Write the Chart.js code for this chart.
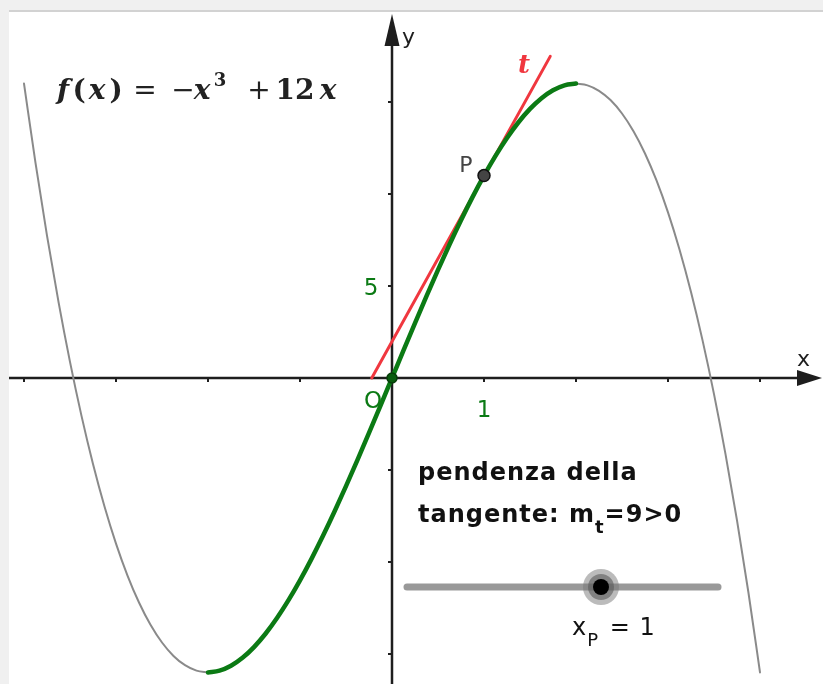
<!DOCTYPE html>
<html>
<head>
<meta charset="utf-8">
<script src="https://cdn.jsdelivr.net/npm/chart.js@4.4.0/dist/chart.umd.min.js"></script>
<style>
  html, body { margin: 0; padding: 0; background: #f0f0f0; overflow: hidden; }
  #wrap { position: absolute; left: 0; top: 0; width: 823px; height: 684px; }
</style>
</head>
<body>
<div id="wrap"><canvas id="graph"></canvas></div>
<script>
// values: f(x) = -x^3 + 12x
const leftX = [-4, -3.875, -3.75, -3.625, -3.5, -3.375, -3.25, -3.125, -3, -2.875, -2.75, -2.625, -2.5, -2.375, -2.25, -2.125, -2];
const leftY = [16, 11.686, 7.734, 4.135, 0.875, -2.057, -4.672, -6.982, -9, -10.736, -12.203, -13.412, -14.375, -15.104, -15.609, -15.904, -16];

const arcX = [-2, -1.875, -1.75, -1.625, -1.5, -1.375, -1.25, -1.125, -1, -0.875, -0.75, -0.625, -0.5, -0.375, -0.25, -0.125,
  0, 0.125, 0.25, 0.375, 0.5, 0.625, 0.75, 0.875, 1, 1.125, 1.25, 1.375, 1.5, 1.625, 1.75, 1.875, 2];
const arcY = [-16, -15.908, -15.641, -15.209, -14.625, -13.9, -13.047, -12.076, -11, -9.83, -8.578, -7.256, -5.875, -4.447, -2.984, -1.498,
  0, 1.498, 2.984, 4.447, 5.875, 7.256, 8.578, 9.83, 11, 12.076, 13.047, 13.9, 14.625, 15.209, 15.641, 15.908, 16];

const rightX = [2, 2.125, 2.25, 2.375, 2.5, 2.625, 2.75, 2.875, 3, 3.125, 3.25, 3.375, 3.5, 3.625, 3.75, 3.875, 4];
const rightY = [16, 15.904, 15.609, 15.104, 14.375, 13.412, 12.203, 10.736, 9, 6.982, 4.672, 2.057, -0.875, -4.135, -7.734, -11.686, -16];

const tangentX = [-0.22, 1.72];
const tangentY = [0, 17.48];

const pointP = [1, 11];
const pointO = [0, 0];

const xTicks = [-4, -3, -2, -1, 1, 2, 3, 4];
const yTicks = [-15, -10, -5, 5, 10, 15];

const GREEN = "#0b7a14";
const RED = "#f0373f";

function pts(xs, ys) {
  return xs.map((x, i) => ({ x: x, y: ys[i] }));
}

// frame, axes and labels
const geoPlugin = {
  id: "geo",
  beforeDraw(chart) {
    const c = chart.ctx;
    c.save();
    c.fillStyle = "#f0f0f0";
    c.fillRect(0, 0, chart.width, chart.height);
    c.fillStyle = "#ffffff";
    c.fillRect(9, 12, chart.width - 9, chart.height - 12);
    c.fillStyle = "#d2d2d2";
    c.fillRect(9, 10, chart.width - 9, 2);
    c.restore();
  },
  beforeDatasetsDraw(chart) {
    const c = chart.ctx;
    const xs = chart.scales.x, ys = chart.scales.y;
    const x0 = xs.getPixelForValue(0), y0 = ys.getPixelForValue(0);
    c.save();
    c.strokeStyle = "#1e1e1e";
    c.fillStyle = "#1e1e1e";
    c.lineWidth = 2.5;
    // x axis
    c.beginPath();
    c.moveTo(9, y0);
    c.lineTo(800, y0);
    c.stroke();
    c.beginPath();
    c.moveTo(822, y0);
    c.lineTo(797, y0 - 8);
    c.lineTo(797, y0 + 8);
    c.closePath();
    c.fill();
    // y axis
    c.beginPath();
    c.moveTo(x0, chart.height);
    c.lineTo(x0, 40);
    c.stroke();
    c.beginPath();
    c.moveTo(x0, 14);
    c.lineTo(x0 - 7.5, 46);
    c.lineTo(x0 + 7.5, 46);
    c.closePath();
    c.fill();
    // ticks
    c.lineWidth = 2;
    xTicks.forEach(v => {
      const p = xs.getPixelForValue(v);
      c.beginPath();
      c.moveTo(p, y0);
      c.lineTo(p, y0 + 4);
      c.stroke();
    });
    yTicks.forEach(v => {
      const p = ys.getPixelForValue(v);
      c.beginPath();
      c.moveTo(x0, p);
      c.lineTo(x0 - 4, p);
      c.stroke();
    });
    c.restore();
  },
  afterDraw(chart) {
    const c = chart.ctx;
    const xs = chart.scales.x, ys = chart.scales.y;
    const x0 = xs.getPixelForValue(0), y0 = ys.getPixelForValue(0);
    c.save();
    c.letterSpacing = "0px";
    c.textBaseline = "alphabetic";
    c.textAlign = "left";

    // axis names
    c.fillStyle = "#1e1e1e";
    c.font = "22px 'DejaVu Sans'";
    c.fillText("y", x0 + 10, 44);
    c.fillText("x", 797, 366);

    // tick labels
    c.fillStyle = GREEN;
    c.font = "23px 'DejaVu Sans'";
    c.textAlign = "center";
    c.fillText("5", x0 - 21, ys.getPixelForValue(5) + 9);
    c.fillText("1", xs.getPixelForValue(1), y0 + 39);
    c.fillText("O", x0 - 19, y0 + 30);

    // point label
    c.fillStyle = "#444444";
    c.font = "22px 'DejaVu Sans'";
    c.fillText("P", xs.getPixelForValue(pointP[0]) - 18, ys.getPixelForValue(pointP[1]) - 4);

    // tangent name
    c.fillStyle = RED;
    c.font = "bold italic 26px 'DejaVu Serif'";
    c.fillText("t", 524, 73);

    // formula, each glyph centred where it sits in the picture
    c.fillStyle = "#222222";
    c.textAlign = "center";
    const by = 99;
    const fi = "bold italic 28px 'DejaVu Serif'";
    const fb = "bold 28px 'DejaVu Serif'";
    const fl = "28px 'DejaVu Serif'";
    const parts = [
      [fi, "f", 63, by],
      [fb, "(", 79, by],
      [fi, "x", 97, by],
      [fb, ")", 116, by],
      [fl, "=", 145, by],
      [fl, "\u2212", 183, by],
      [fi, "x", 202, by],
      ["bold 18px 'DejaVu Serif'", "3", 220, by - 13],
      [fl, "+", 259, by],
      [fb, "12", 295, by],
      [fi, "x", 328, by]
    ];
    parts.forEach(p => {
      c.font = p[0];
      c.fillText(p[1], p[2], p[3]);
    });

    // slope text
    c.textAlign = "left";
    c.fillStyle = "#111111";
    c.letterSpacing = "1px";
    c.font = "bold 24px 'DejaVu Sans'";
    c.fillText("pendenza della", 418, 480);
    let tx = 418;
    c.fillText("tangente: m", tx, 522);
    tx += c.measureText("tangente: m").width;
    c.font = "bold 18px 'DejaVu Sans'";
    c.fillText("t", tx, 533);
    tx += c.measureText("t").width;
    c.font = "bold 24px 'DejaVu Sans'";
    c.fillText("=9>0", tx, 522);

    // slider
    c.strokeStyle = "#999999";
    c.lineCap = "round";
    c.lineWidth = 7;
    c.beginPath();
    c.moveTo(407, 587);
    c.lineTo(718, 587);
    c.stroke();
    c.fillStyle = "rgba(120,120,120,0.5)";
    c.beginPath();
    c.arc(601, 587, 18, 0, Math.PI * 2);
    c.fill();
    c.fillStyle = "rgba(90,90,90,0.6)";
    c.beginPath();
    c.arc(601, 587, 13, 0, Math.PI * 2);
    c.fill();
    c.fillStyle = "#000000";
    c.beginPath();
    c.arc(601, 587, 8, 0, Math.PI * 2);
    c.fill();

    c.fillStyle = "#111111";
    c.font = "24px 'DejaVu Sans'";
    let sx = 572;
    c.fillText("x", sx, 635);
    sx += c.measureText("x").width;
    c.font = "18px 'DejaVu Sans'";
    c.fillText("P", sx, 646);
    sx += c.measureText("P").width;
    c.font = "24px 'DejaVu Sans'";
    c.fillText(" = 1", sx + 2, 635);
    c.restore();
  }
};

const ctx = document.getElementById("graph").getContext("2d");

new Chart(ctx, {
  type: "line",
  data: {
    datasets: [
      {
        data: [{ x: pointP[0], y: pointP[1] }],
        showLine: false,
        pointRadius: 6,
        pointBackgroundColor: "#444444",
        pointBorderColor: "#111111",
        pointBorderWidth: 1.5,
        order: 0
      },
      {
        data: [{ x: pointO[0], y: pointO[1] }],
        showLine: false,
        pointRadius: 5,
        pointBackgroundColor: "#085c0e",
        pointBorderColor: "#063d09",
        pointBorderWidth: 1.5,
        order: 1
      },
      {
        data: pts(arcX, arcY),
        borderColor: GREEN,
        borderWidth: 4.5,
        cubicInterpolationMode: "monotone",
        pointRadius: 0,
        order: 2
      },
      {
        data: pts(tangentX, tangentY),
        borderColor: RED,
        borderWidth: 3,
        pointRadius: 0,
        order: 3
      },
      {
        data: pts(leftX, leftY),
        borderColor: "#8a8a8a",
        borderWidth: 2,
        cubicInterpolationMode: "monotone",
        pointRadius: 0,
        order: 4
      },
      {
        data: pts(rightX, rightY),
        borderColor: "#8a8a8a",
        borderWidth: 2,
        cubicInterpolationMode: "monotone",
        pointRadius: 0,
        order: 4
      }
    ]
  },
  options: {
    responsive: true,
    maintainAspectRatio: false,
    animation: false,
    layout: { padding: 0, autoPadding: false },
    scales: {
      x: { type: "linear", min: -392 / 92, max: 431 / 92, display: false },
      y: { type: "linear", min: -306 / 18.4, max: 378 / 18.4, display: false }
    },
    plugins: {
      legend: { display: false },
      tooltip: { enabled: false }
    },
    elements: { line: { borderCapStyle: "round" } }
  },
  plugins: [geoPlugin]
});
</script>
</body>
</html>
